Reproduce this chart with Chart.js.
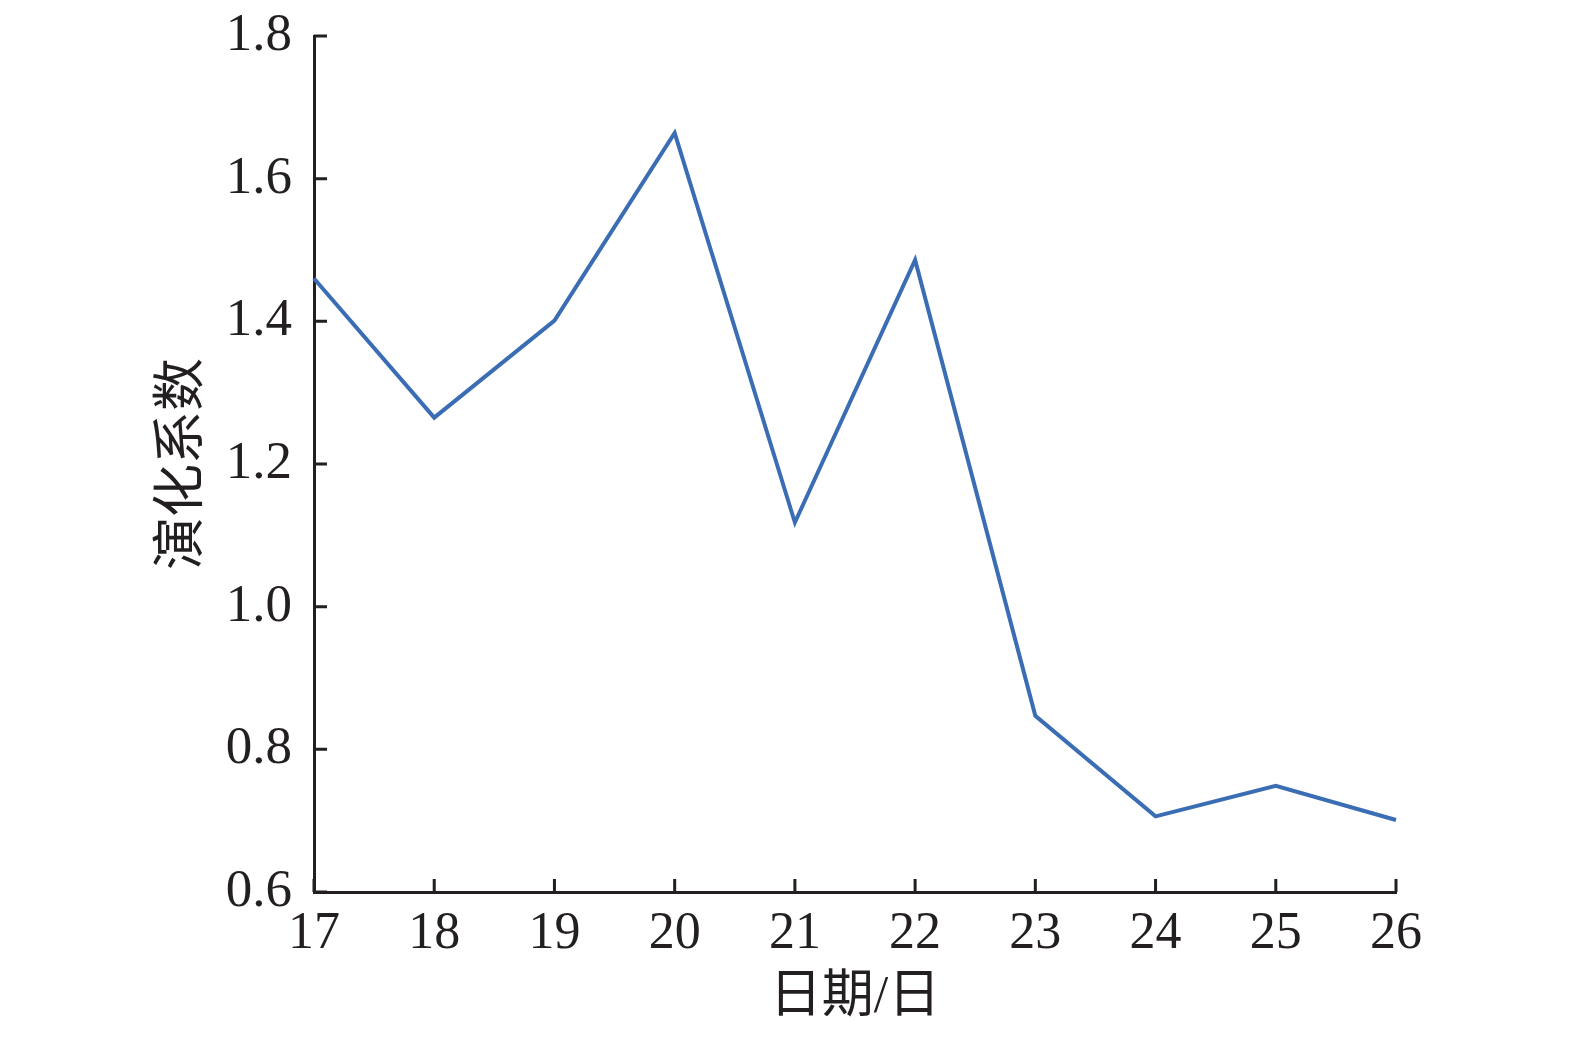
<!DOCTYPE html>
<html>
<head>
<meta charset="utf-8">
<script src="https://cdn.jsdelivr.net/npm/chart.js@4/dist/chart.umd.min.js"></script>
<style>
  html, body { margin: 0; padding: 0; background: #fff; }
  #wrap { width: 1575px; height: 1040px; }
</style>
</head>
<body>
<div id="wrap"><canvas id="evoChart" width="1575" height="1040"></canvas></div>
<script>
const days = ['17', '18', '19', '20', '21', '22', '23', '24', '25', '26'];
const evoValues = [1.46, 1.265, 1.401, 1.664, 1.118, 1.486, 0.847, 0.706, 0.749, 0.701];
const yTicks = [0.6, 0.8, 1.0, 1.2, 1.4, 1.6, 1.8];

const ink = '#231f20';
const serif = '"Liberation Serif", "Noto Sans CJK SC", serif';

// inward tick marks drawn from the scales
const innerTicks = {
    id: 'innerTicks',
    afterDraw(chart) {
        const c = chart.ctx;
        const xs = chart.scales.x, ys = chart.scales.y;
        const len = 13;
        c.save();
        c.strokeStyle = ink;
        c.lineWidth = 3;
        c.beginPath();
        xs.ticks.forEach((t, i) => {
            const px = xs.getPixelForTick(i);
            c.moveTo(px, xs.top);
            c.lineTo(px, xs.top - len);
        });
        ys.ticks.forEach((t, i) => {
            const py = ys.getPixelForTick(i);
            c.moveTo(ys.right, py);
            c.lineTo(ys.right + len, py);
        });
        c.stroke();
        c.restore();
    }
};

const ctx = document.getElementById('evoChart').getContext('2d');
new Chart(ctx, {
    type: 'line',
    data: {
        labels: days,
        datasets: [{
            label: '演化系数',
            data: evoValues,
            borderColor: '#3b6db4',
            borderWidth: 4,
            pointRadius: 0,
            tension: 0,
            fill: false
        }]
    },
    plugins: [innerTicks],
    options: {
        responsive: false,
        animation: false,
        layout: { padding: { left: 0, right: 179, top: 36, bottom: 0 } },
        plugins: { legend: { display: false }, tooltip: { enabled: false } },
        scales: {
            x: {
                type: 'category',
                offset: false,
                grid: { display: false, drawTicks: false },
                border: { display: true, color: ink, width: 3 },
                ticks: {
                    color: ink,
                    font: { family: serif, size: 52 },
                    padding: 11,
                    maxRotation: 0,
                    autoSkip: false
                },
                title: {
                    display: true,
                    text: '日期/日',
                    color: ink,
                    font: { family: serif, size: 52 },
                    padding: { top: 0, bottom: 10 }
                },
                afterFit(scale) {
                    scale.height = 148;
                    scale.paddingLeft = 0;
                    scale.paddingRight = 0;
                }
            },
            y: {
                min: 0.6,
                max: 1.8,
                afterBuildTicks(scale) {
                    scale.ticks = yTicks.map(v => ({ value: v }));
                },
                grid: { display: false, drawTicks: false },
                border: { display: true, color: ink, width: 3 },
                ticks: {
                    color: ink,
                    font: { family: serif, size: 53 },
                    padding: 22,
                    callback: v => v.toFixed(1)
                },
                title: {
                    display: true,
                    text: '演化系数',
                    color: ink,
                    font: { family: serif, size: 53 },
                    padding: { top: 152, bottom: 0 }
                },
                afterFit(scale) {
                    scale.width = 314;
                    scale.paddingTop = 0;
                    scale.paddingBottom = 0;
                }
            }
        }
    }
});
</script>
</body>
</html>
